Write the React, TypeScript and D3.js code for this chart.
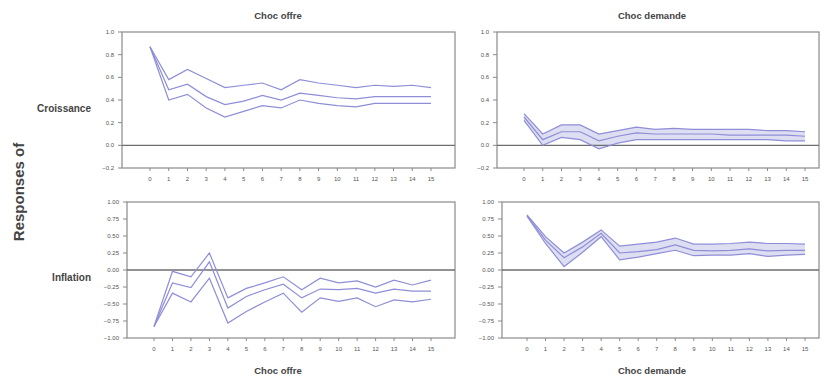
import React from "react";
import * as d3 from "d3";

// Horizons (periods after the shock)
const horizons = d3.range(0, 16);

// Growth (Croissance) response to a supply shock: upper band, estimate, lower band
const growthSupplyUpper = [0.87, 0.58, 0.67, 0.59, 0.51, 0.53, 0.55, 0.49, 0.58, 0.55, 0.53, 0.51, 0.53, 0.52, 0.53, 0.51];
const growthSupplyMid = [0.87, 0.49, 0.54, 0.43, 0.36, 0.39, 0.44, 0.4, 0.46, 0.44, 0.42, 0.41, 0.43, 0.43, 0.43, 0.43];
const growthSupplyLower = [0.87, 0.4, 0.45, 0.33, 0.25, 0.3, 0.35, 0.33, 0.4, 0.37, 0.35, 0.34, 0.37, 0.37, 0.37, 0.37];

// Growth response to a demand shock
const growthDemandUpper = [0.28, 0.1, 0.18, 0.18, 0.1, 0.13, 0.16, 0.14, 0.15, 0.14, 0.14, 0.14, 0.14, 0.13, 0.13, 0.12];
const growthDemandMid = [0.25, 0.05, 0.12, 0.12, 0.04, 0.08, 0.11, 0.1, 0.1, 0.1, 0.1, 0.09, 0.09, 0.09, 0.09, 0.08];
const growthDemandLower = [0.22, 0.0, 0.07, 0.05, -0.03, 0.02, 0.05, 0.05, 0.05, 0.05, 0.05, 0.05, 0.05, 0.05, 0.04, 0.04];

// Inflation response to a supply shock
const inflSupplyUpper = [-0.83, -0.02, -0.1, 0.25, -0.41, -0.27, -0.19, -0.1, -0.29, -0.12, -0.19, -0.16, -0.25, -0.15, -0.22, -0.15];
const inflSupplyMid = [-0.83, -0.19, -0.26, 0.12, -0.56, -0.39, -0.29, -0.21, -0.41, -0.28, -0.29, -0.27, -0.34, -0.28, -0.31, -0.31];
const inflSupplyLower = [-0.83, -0.34, -0.47, -0.12, -0.78, -0.61, -0.47, -0.34, -0.62, -0.41, -0.46, -0.41, -0.54, -0.44, -0.47, -0.43];

// Inflation response to a demand shock
const inflDemandUpper = [0.81, 0.49, 0.25, 0.41, 0.59, 0.35, 0.38, 0.41, 0.47, 0.38, 0.38, 0.39, 0.41, 0.39, 0.39, 0.38];
const inflDemandMid = [0.8, 0.44, 0.18, 0.34, 0.54, 0.25, 0.27, 0.3, 0.37, 0.29, 0.28, 0.29, 0.31, 0.28, 0.29, 0.29];
const inflDemandLower = [0.79, 0.39, 0.05, 0.26, 0.49, 0.15, 0.19, 0.24, 0.29, 0.21, 0.22, 0.22, 0.24, 0.2, 0.22, 0.23];

const growthTicks = [1.0, 0.8, 0.6, 0.4, 0.2, 0.0, -0.2];
const inflationTicks = [1.0, 0.75, 0.5, 0.25, 0.0, -0.25, -0.5, -0.75, -1.0];

const shockTitles = ["Choc offre", "Choc demande"];
const rowLabels = ["Croissance", "Inflation"];
const sideTitle = "Responses of";

type Panel = {
  left: number;
  right: number;
  top: number;
  bottom: number;
  x0: number;
  x1: number;
  domain: [number, number];
  ticks: number[];
  fmt: string;
  upper: number[];
  mid: number[];
  lower: number[];
  shaded: boolean;
};

const panels: Panel[] = [
  { left: 122, right: 455, top: 32, bottom: 168, x0: 150, x1: 431, domain: [-0.2, 1.0], ticks: growthTicks, fmt: ".1f", upper: growthSupplyUpper, mid: growthSupplyMid, lower: growthSupplyLower, shaded: false },
  { left: 497, right: 819, top: 32, bottom: 168, x0: 524, x1: 805, domain: [-0.2, 1.0], ticks: growthTicks, fmt: ".1f", upper: growthDemandUpper, mid: growthDemandMid, lower: growthDemandLower, shaded: true },
  { left: 127, right: 455, top: 202, bottom: 338, x0: 154, x1: 431, domain: [-1, 1], ticks: inflationTicks, fmt: ".2f", upper: inflSupplyUpper, mid: inflSupplyMid, lower: inflSupplyLower, shaded: false },
  { left: 502, right: 819, top: 202, bottom: 338, x0: 527, x1: 805, domain: [-1, 1], ticks: inflationTicks, fmt: ".2f", upper: inflDemandUpper, mid: inflDemandMid, lower: inflDemandLower, shaded: true },
];

const LINE = "#8e8ed8";
const FILL = "#dedef2";
const AXIS = "#8a8a8a";
const TEXT = "#555";
const FONT = "Liberation Sans, Arial, sans-serif";

function PanelView({ p }: { p: Panel }) {
  const x = d3.scalePoint<number>().domain(horizons).range([p.x0, p.x1]);
  const y = d3.scaleLinear().domain(p.domain).range([p.bottom, p.top]);
  const line = d3
    .line<number>()
    .x((_, i) => x(horizons[i]) as number)
    .y((d) => y(d));
  const area = d3
    .area<number>()
    .x((_, i) => x(horizons[i]) as number)
    .y0((_, i) => y(p.lower[i]))
    .y1((d) => y(d));
  const f = d3.format(p.fmt);
  return (
    <g>
      {p.shaded && <path d={area(p.upper) ?? ""} fill={FILL} stroke="none" />}
      {/* frame */}
      <rect x={p.left} y={p.top} width={p.right - p.left} height={p.bottom - p.top} fill="none" stroke={AXIS} strokeWidth={1.2} />
      {/* zero line */}
      <line x1={p.left} x2={p.right} y1={y(0)} y2={y(0)} stroke="#6e6e6e" strokeWidth={1.3} />
      {/* y ticks */}
      {p.ticks.map((t) => (
        <g key={t}>
          <line x1={p.left - 4} x2={p.left} y1={y(t)} y2={y(t)} stroke={AXIS} />
          <text x={p.left - 8} y={y(t)} dy="0.35em" textAnchor="end" fontSize={6} fill={TEXT} fontFamily={FONT}>
            {f(t)}
          </text>
        </g>
      ))}
      {/* x ticks */}
      {horizons.map((h) => (
        <g key={h}>
          <line x1={x(h)} x2={x(h)} y1={p.bottom} y2={p.bottom + 3} stroke={AXIS} />
          <text x={x(h)} y={p.bottom + 13} textAnchor="middle" fontSize={6} fill={TEXT} fontFamily={FONT}>
            {h}
          </text>
        </g>
      ))}
      {[p.upper, p.mid, p.lower].map((s, i) => (
        <path key={i} d={line(s) ?? ""} fill="none" stroke={LINE} strokeWidth={1.2} />
      ))}
    </g>
  );
}

export default function App() {
  return (
    <svg width={824} height={383} style={{ position: "absolute", left: 0, top: 0, background: "#fff" }}>
      <rect width={824} height={383} fill="#fff" />
      {panels.map((p, i) => (
        <PanelView key={i} p={p} />
      ))}
      {shockTitles.map((t, i) => (
        <g key={t}>
          <text x={i === 0 ? 278 : 652} y={19} textAnchor="middle" fontSize={9.5} fontWeight="bold" fill="#444" fontFamily={FONT}>
            {t}
          </text>
          <text x={i === 0 ? 278 : 652} y={374} textAnchor="middle" fontSize={9.5} fontWeight="bold" fill="#444" fontFamily={FONT}>
            {t}
          </text>
        </g>
      ))}
      <text x={91} y={112} textAnchor="end" fontSize={10} fontWeight="bold" fill="#444" fontFamily={FONT}>
        {rowLabels[0]}
      </text>
      <text x={91} y={281} textAnchor="end" fontSize={10} fontWeight="bold" fill="#444" fontFamily={FONT}>
        {rowLabels[1]}
      </text>
      <text transform="translate(24,192) rotate(-90)" textAnchor="middle" fontSize={15} fontWeight="bold" fill="#444" fontFamily={FONT}>
        {sideTitle}
      </text>
    </svg>
  );
}
